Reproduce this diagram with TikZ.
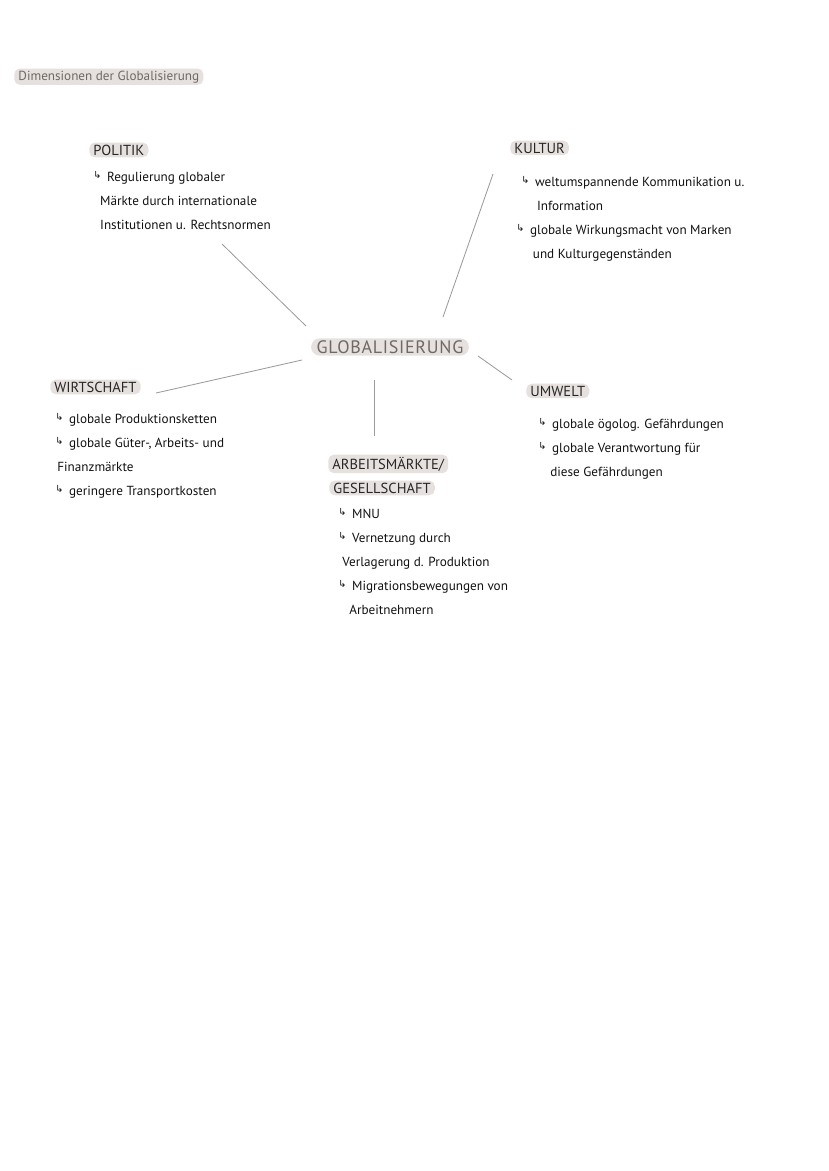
\documentclass[tikz,border=0pt]{standalone}
\usepackage{fontspec}
\setmainfont{PT Sans}
\newfontfamily\symfont{DejaVu Sans}
\usepackage{xcolor}
\usepackage{tikz}
\usetikzlibrary{positioning}

\definecolor{hlgrey}{HTML}{E6E1DE}
\definecolor{inkgrey}{HTML}{111111}
\definecolor{titlegrey}{HTML}{6F6865}
\definecolor{linegrey}{HTML}{9A9A9A}

% small hook arrow in front of each point
\newcommand{\hook}{\makebox[10pt][l]{\raisebox{2pt}{\symfont\fontsize{7}{7}\selectfont ↳}}}

\begin{document}
\begin{tikzpicture}[
        x=0.02536cm, y=-0.02536cm,
        head/.style={fill=hlgrey, rounded corners=4pt, inner xsep=3pt, inner ysep=1.5pt, anchor=base west, text=black!85, font=\fontsize{10.5}{12}\selectfont},
        body/.style={align=left, anchor=north west, inner sep=0pt, text=inkgrey, font=\fontsize{9.5}{17.3}\selectfont},
        conn/.style={draw=linegrey, line width=0.6pt}
    ]
        \useasboundingbox (0,0) rectangle (828,1171);

        % Title
        \node[head, text=titlegrey, font=\fontsize{9.5}{12}\selectfont] (title) at (14,80) {Dimensionen der Globalisierung};

        % Centre
        \node[head, anchor=center, rounded corners=6pt, inner xsep=4pt, text=titlegrey, font=\fontsize{13}{15}\selectfont\addfontfeatures{LetterSpace=4}] (glob) at (390,347) {GLOBALISIERUNG};

        % Politik
        \node[head] (politik) at (89,155) {POLITIK};
        \node[body] (politikText) at (93,171) {\hook Regulierung globaler\\
            \hspace*{5pt}Märkte durch internationale\\
            \hspace*{5pt}Institutionen u. Rechtsnormen};

        % Kultur
        \node[head] (kultur) at (510,153) {KULTUR};
        \node[body] (kulturText) at (516,176) {\hspace*{3.6pt}\hook weltumspannende Kommunikation u.\\
            \hspace*{15pt}Information\\
            \hook globale Wirkungsmacht von Marken\\
            \hspace*{12pt}und Kulturgegenständen};

        % Wirtschaft
        \node[head] (wirtschaft) at (50,392) {WIRTSCHAFT};
        \node[body] (wirtschaftText) at (55,413) {\hook globale Produktionsketten\\
            \hook globale Güter-, Arbeits- und\\
            \hspace*{1.5pt}Finanzmärkte\\
            \hook geringere Transportkosten};

        % Umwelt
        \node[head] (umwelt) at (526,396) {UMWELT};
        \node[body] (umweltText) at (538,418) {\hook globale ögolog. Gefährdungen\\
            \hook globale Verantwortung für\\
            \hspace*{8.7pt}diese Gefährdungen};

        % Arbeitsmaerkte / Gesellschaft
        \node[head] (arbeit) at (328,469) {ARBEITSMÄRKTE/};
        \node[head] (gesellschaft) at (329,493) {GESELLSCHAFT};
        \node[body] (arbeitText) at (338,508) {\hook MNU\\
            \hook Vernetzung durch\\
            \hspace*{3pt}Verlagerung d. Produktion\\
            \hook Migrationsbewegungen von\\
            \hspace*{8pt}Arbeitnehmern};

        % Connector ends
        \coordinate (gPol) at (306,326);
        \coordinate (pol) at (222,244);
        \coordinate (gKul) at (443,317);
        \coordinate (kul) at (493,174);
        \coordinate (gWir) at (302,360);
        \coordinate (wir) at (156,393);
        \coordinate (gArb) at (374,380);
        \coordinate (arb) at (374,436);
        \coordinate (gUmw) at (478,356);
        \coordinate (umw) at (512,380);

        % Connectors
        \draw[conn] (gPol) -- (pol);
        \draw[conn] (gKul) -- (kul);
        \draw[conn] (gWir) -- (wir);
        \draw[conn] (gArb) -- (arb);
        \draw[conn] (gUmw) -- (umw);
    \end{tikzpicture}
\end{document}
